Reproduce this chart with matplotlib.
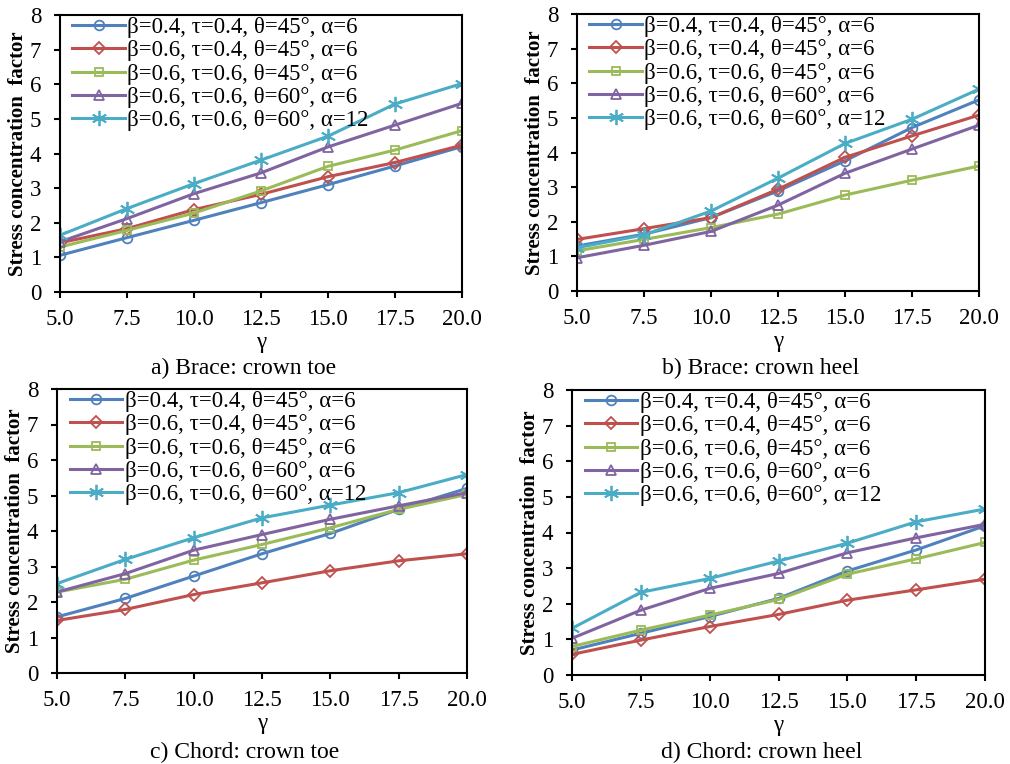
import numpy as np
import matplotlib
matplotlib.use('Agg')
import matplotlib.pyplot as plt

plt.rcParams['font.family'] = ['Liberation Serif', 'DejaVu Serif']

# gamma values on the x axis
gamma = [5.0, 7.5, 10.0, 12.5, 15.0, 17.5, 20.0]
xtick_labels = ['5.0', '7.5', '10.0', '12.5', '15.0', '17.5', '20.0']

series_labels = [
    'β=0.4, τ=0.4, θ=45°, α=6',
    'β=0.6, τ=0.4, θ=45°, α=6',
    'β=0.6, τ=0.6, θ=45°, α=6',
    'β=0.6, τ=0.6, θ=60°, α=6',
    'β=0.6, τ=0.6, θ=60°, α=12',
]

# SCF values, one list per series
brace_toe = [
    [1.06, 1.57, 2.07, 2.58, 3.10, 3.64, 4.20],
    [1.42, 1.83, 2.38, 2.82, 3.33, 3.74, 4.24],
    [1.30, 1.78, 2.28, 2.92, 3.63, 4.10, 4.66],
    [1.45, 2.12, 2.84, 3.44, 4.19, 4.82, 5.45],
    [1.64, 2.41, 3.13, 3.81, 4.50, 5.43, 6.02],
]
brace_heel = [
    [1.30, 1.64, 2.12, 2.89, 3.76, 4.72, 5.52],
    [1.49, 1.80, 2.12, 2.94, 3.86, 4.48, 5.08],
    [1.16, 1.49, 1.83, 2.22, 2.77, 3.20, 3.61],
    [0.96, 1.32, 1.72, 2.48, 3.40, 4.10, 4.79],
    [1.25, 1.62, 2.31, 3.26, 4.26, 4.96, 5.83],
]
chord_toe = [
    [1.58, 2.10, 2.73, 3.36, 3.93, 4.61, 5.20],
    [1.48, 1.79, 2.21, 2.54, 2.88, 3.16, 3.36],
    [2.28, 2.64, 3.18, 3.62, 4.09, 4.61, 5.03],
    [2.28, 2.80, 3.46, 3.90, 4.33, 4.71, 5.08],
    [2.52, 3.20, 3.81, 4.37, 4.73, 5.08, 5.59],
]
chord_heel = [
    [0.70, 1.17, 1.64, 2.15, 2.92, 3.51, 4.19],
    [0.58, 0.98, 1.36, 1.70, 2.10, 2.39, 2.69],
    [0.80, 1.26, 1.68, 2.12, 2.83, 3.26, 3.72],
    [1.03, 1.82, 2.43, 2.85, 3.43, 3.85, 4.23],
    [1.31, 2.32, 2.71, 3.20, 3.70, 4.30, 4.66],
]

colors = ['#4F81BD', '#C0504D', '#9BBB59', '#8064A2', '#4BACC6']
markers = ['o', 'D', 's', '^', (6, 2, 0)]
msizes = [7, 6, 6, 7, 11]

# panel data, caption, axes box in pixels (left, top, right, bottom), caption drop
panels = [
    (brace_toe, 'a) Brace: crown toe', [60, 15, 462, 292], 76),
    (brace_heel, 'b) Brace: crown heel', [577, 14, 979, 291], 77),
    (chord_toe, 'c) Chord: crown toe', [57, 389, 467, 673], 79),
    (chord_heel, 'd) Chord: crown heel', [572, 390, 985, 675], 77),
]

W, H = 1010, 764
fig = plt.figure(figsize=(W / 100, H / 100), dpi=100)

for data, caption, (x0, y0, x1, y1), drop in panels:
    ax = fig.add_axes([x0 / W, 1 - y1 / H, (x1 - x0) / W, (y1 - y0) / H])
    for vals, lab, c, m, ms in zip(data, series_labels, colors, markers, msizes):
        ax.plot(gamma, vals, color=c, lw=2.2, marker=m, ms=ms,
                mfc='none', mec=c, mew=1.3, label=lab)
    ax.set_xlim(5, 20)
    ax.set_ylim(0, 8)
    ax.set_xticks(gamma)
    ax.set_xticklabels(xtick_labels)
    ax.set_yticks(range(0, 9))
    ax.tick_params(direction='out', length=4.5, width=1.5, labelsize=16.5)
    ax.tick_params(axis='x', pad=8)
    ax.tick_params(axis='y', pad=9)
    for s in ax.spines.values():
        s.set_linewidth(1.5)
    ax.set_xlabel('γ', fontsize=16.5, labelpad=1)
    ax.set_ylabel('Stress concentration  factor', fontsize=15,
                  fontweight='bold', labelpad=1)
    ax.legend(loc='upper left', bbox_to_anchor=(0.025, 1.0), frameon=False,
              fontsize=16.5, handlelength=2.3, handletextpad=0.1,
              labelspacing=0.09, borderpad=0.1, borderaxespad=0)
    cx = ((x0 + x1) / 2 - 17) / W
    fig.text(cx, 1 - (y1 + drop) / H, caption, ha='center', va='center',
             fontsize=17)

fig.savefig('out.png', dpi=100)
